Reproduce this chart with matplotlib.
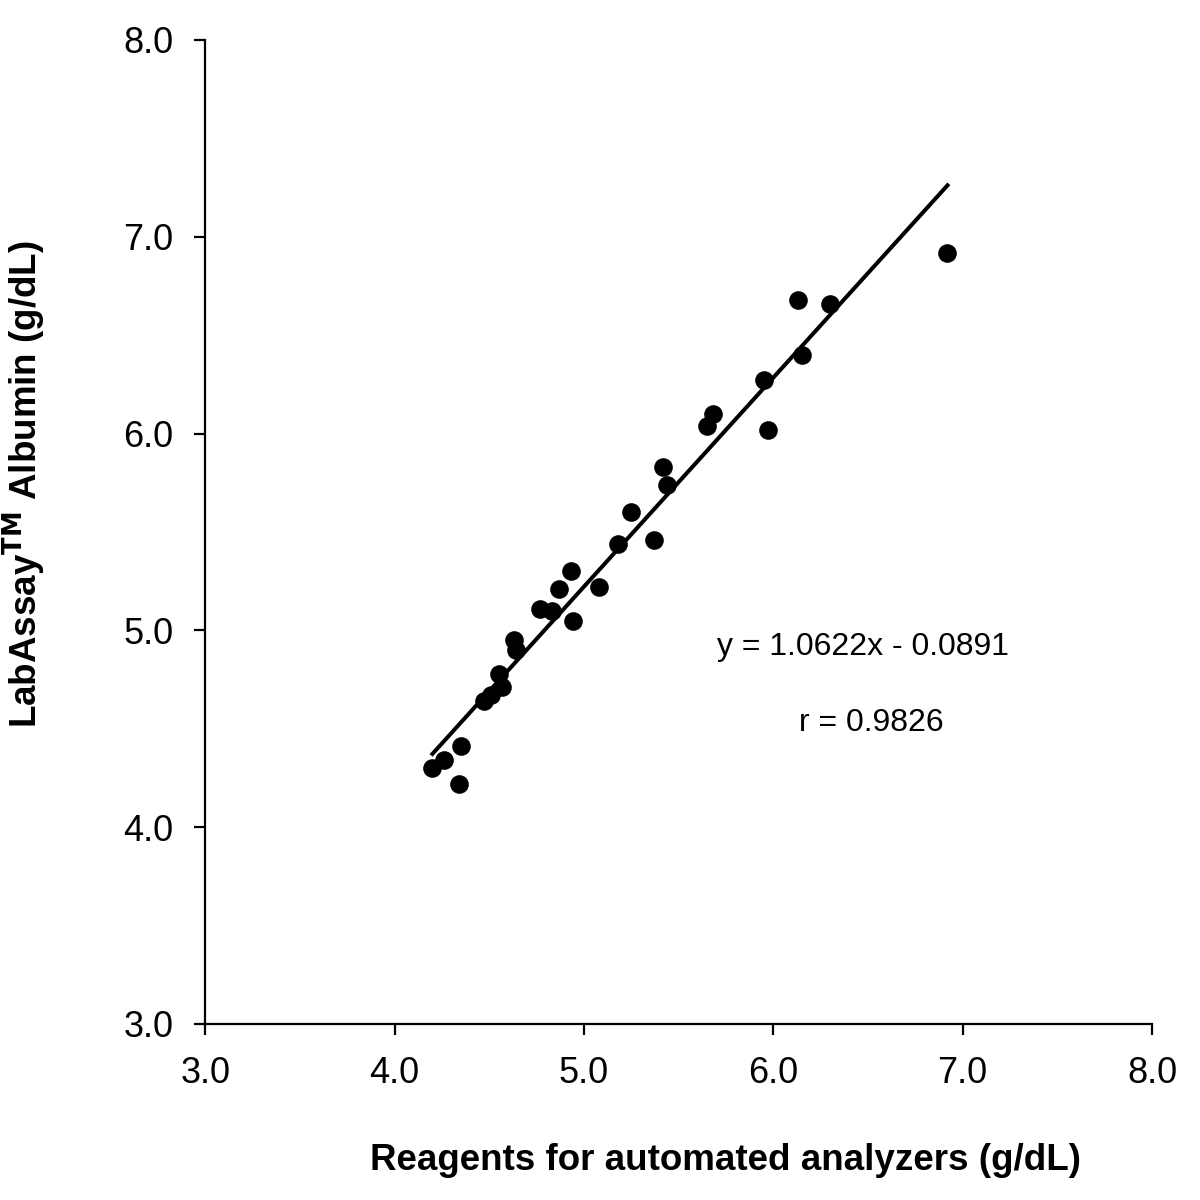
import numpy as np
import matplotlib.pyplot as plt

# =============================
# DATOS
# =============================
x_ref = [4.20, 4.26, 4.34, 4.35, 4.47, 4.51, 4.55, 4.57, 4.63, 4.64,
         4.77, 4.83, 4.87, 4.93, 4.94, 5.08, 5.18, 5.25, 5.37, 5.42,
         5.44, 5.65, 5.68, 5.95, 5.97, 6.13, 6.15, 6.30, 6.92]
y_lab = [4.30, 4.34, 4.22, 4.41, 4.64, 4.67, 4.78, 4.71, 4.95, 4.90,
         5.11, 5.10, 5.21, 5.30, 5.05, 5.22, 5.44, 5.60, 5.46, 5.83,
         5.74, 6.04, 6.10, 6.27, 6.02, 6.68, 6.40, 6.66, 6.92]

slope = 1.0622
intercept = -0.0891
r_value = 0.9826

ticks = [3.0, 4.0, 5.0, 6.0, 7.0, 8.0]

plt.rcParams["font.family"] = ["Liberation Sans", "DejaVu Sans"]

# =============================
# GRÁFICO
# =============================
fig = plt.figure(figsize=(12, 12), dpi=100)
ax = fig.add_axes([0.171, 0.1467, 0.789, 0.82])

ax.scatter(x_ref, y_lab, s=180, color="black", zorder=3, linewidths=0)

xs = np.array([min(x_ref), max(x_ref)])
ax.plot(xs, slope * xs + intercept, color="black", linewidth=2.9, zorder=2)

ax.set_xlim(3, 8)
ax.set_ylim(3, 8)
ax.set_xticks(ticks)
ax.set_yticks(ticks)
ax.set_xticklabels([f"{t:.1f}" for t in ticks])
ax.set_yticklabels([f"{t:.1f}" for t in ticks])

for side in ["top", "right"]:
    ax.spines[side].set_visible(False)
for side in ["left", "bottom"]:
    ax.spines[side].set_linewidth(1.6)

ax.tick_params(direction="out", length=8, width=1.6, labelsize=26, pad=15)

ax.set_xlabel("Reagents for automated analyzers (g/dL)", fontsize=26.5,
              fontweight="bold")
ax.xaxis.set_label_coords(0.55, -0.121)
ax.set_ylabel(r"LabAssay$^{\mathbf{TM}}$ Albumin (g/dL)", fontsize=26.5,
              fontweight="bold")
ax.yaxis.set_label_coords(-0.166, 0.549)

ax.text(6.474, 4.916, f"y = {slope:.4f}x - {abs(intercept):.4f}", fontsize=23,
        ha="center", va="center")
ax.text(6.52, 4.53, f"r = {r_value:.4f}", fontsize=23,
        ha="center", va="center")

fig.savefig("out.png", dpi=100)
